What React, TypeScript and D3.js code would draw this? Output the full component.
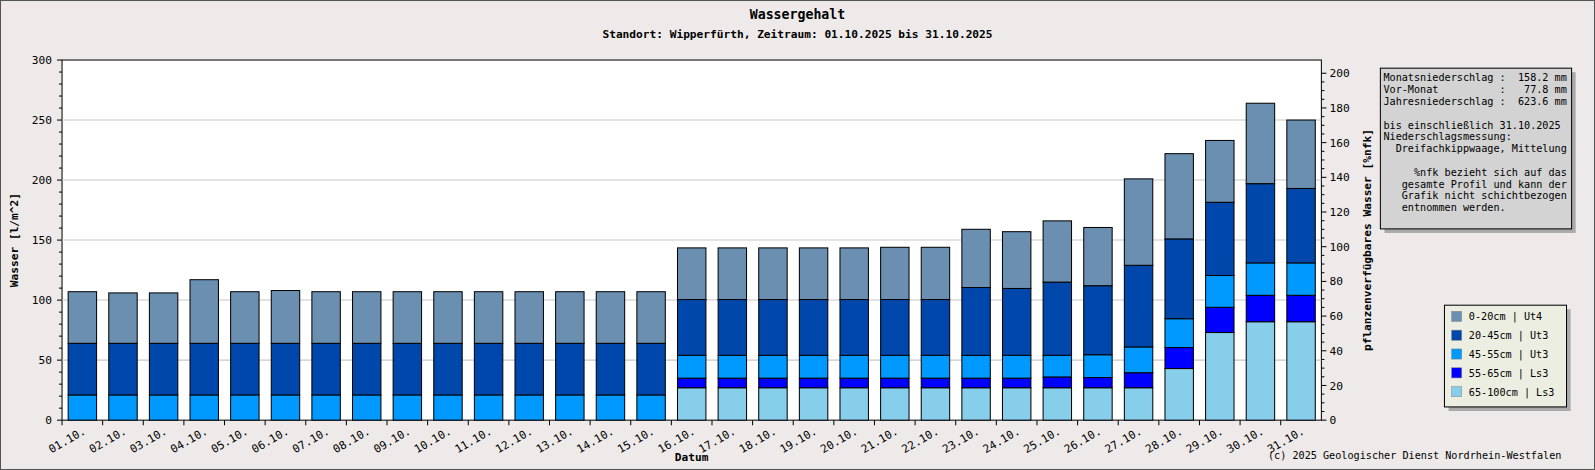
import * as d3 from 'd3'

const DAYS = Array.from({ length: 31 }, (_, i) => `${String(i + 1).padStart(2, '0')}.10.`)
// layer values per day, l/m²
const L65_100 = [0,0,0,0,0,0,0,0,0,0,0,0,0,0,0, 27,27,27,27,27,27,27, 27,27,27,27,27,43,73,82,82]
const L55_65 = [0,0,0,0,0,0,0,0,0,0,0,0,0,0,0, 8,8,8,8,8,8,8, 8,8,9,8.5,12.5,17.5,21,22,22]
const L45_55 = [21,21,21,21,21,21,21,21,21,21,21,21,21,21,21, 19,19,19,19,19,19,19, 19,19,18,19,21.5,24,26.5,27,27]
const L20_45 = [43,43,43,43,43,43,43,43,43,43,43,43,43,43,43, 46.5,46.5,46.5,46.5,46.5,46.5,46.5, 56.5,55.7,61,57.5,68,66.5,61,66,62]
const L0_20 = [43,42,42,53,43,44,43,43,43,43,43,43,43,43,43, 43,43,43,43,43,43.5,43.5, 48.5,47.3,51,48.5,72,71,51.5,67,57]

const LAYERS = [
  { key: '65-100cm | Ls3', vals: L65_100, color: '#87ceeb' },
  { key: '55-65cm | Ls3', vals: L55_65, color: '#0000ff' },
  { key: '45-55cm | Ut3', vals: L45_55, color: '#0099ff' },
  { key: '20-45cm | Ut3', vals: L20_45, color: '#0047ab' },
  { key: '0-20cm | Ut4', vals: L0_20, color: '#6b8fb0' },
]

const INFO = [
  'Monatsniederschlag :  158.2 mm',
  'Vor-Monat          :   77.8 mm',
  'Jahresniederschlag :  623.6 mm',
  '',
  'bis einschließlich 31.10.2025',
  'Niederschlagsmessung:',
  '  Dreifachkippwaage, Mittelung',
  '',
  '     %nfk bezieht sich auf das',
  '   gesamte Profil und kann der',
  '   Grafik nicht schichtbezogen',
  '   entnommen werden.',
]

const W = 1568, H = 462
const PL = 61, PR = 1299, PT = 59, PB = 413
const FONT = '"DejaVu Sans Mono", monospace'

export default function App() {
  const x = d3.scaleBand().domain(DAYS).range([PL, PR]).paddingInner(0.3).paddingOuter(0.15)
  const y = d3.scaleLinear().domain([0, 300]).range([PB, PT])
  const yR = d3.scaleLinear().domain([0, 200]).range([PB, 72])
  const leftTicks = d3.range(0, 301, 50)
  const leftMinor = d3.range(0, 301, 10)
  const rightTicks = d3.range(0, 201, 20)
  const rightMinor = d3.range(0, 201, 5)

  return (
    <svg width={1595} height={470} viewBox={`0 0 ${W} ${H}`} preserveAspectRatio="none"
      style={{ position: 'absolute', left: 0, top: 0 }} fontFamily={FONT}>
      <rect x={0.5} y={0.5} width={W - 1} height={H - 1} fill="#edeae9" stroke="#555" />
      <rect x={PL} y={PT} width={PR - PL} height={PB - PT} fill="#fff" stroke="#000" />
      {leftTicks.slice(1, -1).map(t => (
        <line key={t} x1={PL} x2={PR} y1={y(t)} y2={y(t)} stroke="#c8c8c8" />
      ))}
      <text x={784} y={19} textAnchor="middle" fontSize={13} fontWeight="bold">Wassergehalt</text>
      <text x={784} y={37} textAnchor="middle" fontSize={11} fontWeight="bold">
        Standort: Wipperfürth, Zeitraum: 01.10.2025 bis 31.10.2025
      </text>

      {DAYS.map((d, i) => {
        let acc = 0
        return (
          <g key={d}>
            {LAYERS.map(l => {
              const v = l.vals[i]
              const y0 = acc
              acc += v
              if (v <= 0) return null
              return (
                <rect key={l.key} x={x(d)} width={x.bandwidth()} y={y(acc)} height={y(y0) - y(acc)}
                  fill={l.color} stroke="#000" strokeWidth={1} />
              )
            })}
          </g>
        )
      })}

      {/* left axis */}
      {leftMinor.map(t => (
        <line key={t} x1={PL - (t % 50 === 0 ? 5 : 3)} x2={PL} y1={y(t)} y2={y(t)} stroke="#000" />
      ))}
      {leftTicks.map(t => (
        <text key={t} x={PL - 10} y={y(t) + 4} textAnchor="end" fontSize={11}>{t}</text>
      ))}
      <text transform={`translate(18,${(PT + PB) / 2}) rotate(-90)`} textAnchor="middle" fontSize={11} fontWeight="bold">
        Wasser [l/m^2]
      </text>

      {/* right axis */}
      {rightMinor.map(t => (
        <line key={t} x1={PR} x2={PR + (t % 20 === 0 ? 5 : 3)} y1={yR(t)} y2={yR(t)} stroke="#000" />
      ))}
      {rightTicks.map(t => (
        <text key={t} x={PR + 8} y={yR(t) + 4} fontSize={11}>{t}</text>
      ))}
      <text transform={`translate(1348,${(PT + PB) / 2}) rotate(-90)`} textAnchor="middle" fontSize={11} fontWeight="bold">
        pflanzenverfügbares Wasser [%nfk]
      </text>

      {/* x axis */}
      {DAYS.map(d => {
        const cx = x(d)! + x.bandwidth() / 2
        return (
          <g key={d}>
            <line x1={cx - 20} x2={cx - 20} y1={PB} y2={PB + 5} stroke="#000" />
            <text transform={`translate(${cx + 4},${PB + 13}) rotate(-30)`} textAnchor="end" fontSize={11}>{d}</text>
          </g>
        )
      })}
      <text x={(PL + PR) / 2} y={453} textAnchor="middle" fontSize={11} fontWeight="bold">Datum</text>
      <text x={1535} y={451} textAnchor="end" fontSize={10}>(c) 2025 Geologischer Dienst Nordrhein-Westfalen</text>

      {/* info box */}
      <rect x={1361} y={71} width={188} height={158} fill="#aaa" />
      <rect x={1357} y={67} width={188} height={158} fill="#d3d3d3" stroke="#000" />
      {INFO.map((s, i) => (
        <text key={i} x={1360} y={80 + i * 11.6} fontSize={10} style={{ whiteSpace: 'pre' }}>{s}</text>
      ))}

      {/* legend */}
      <rect x={1424} y={304} width={120} height={100} fill="#aaa" />
      <rect x={1420} y={300} width={120} height={100} fill="#ebeee0" stroke="#000" />
      {[...LAYERS].reverse().map((l, i) => (
        <g key={l.key}>
          <rect x={1427} y={306 + i * 18.5} width={10} height={10} fill={l.color} stroke="#888" strokeWidth={0.5} />
          <text x={1444} y={315 + i * 18.5} fontSize={10}>{l.key}</text>
        </g>
      ))}
    </svg>
  )
}
